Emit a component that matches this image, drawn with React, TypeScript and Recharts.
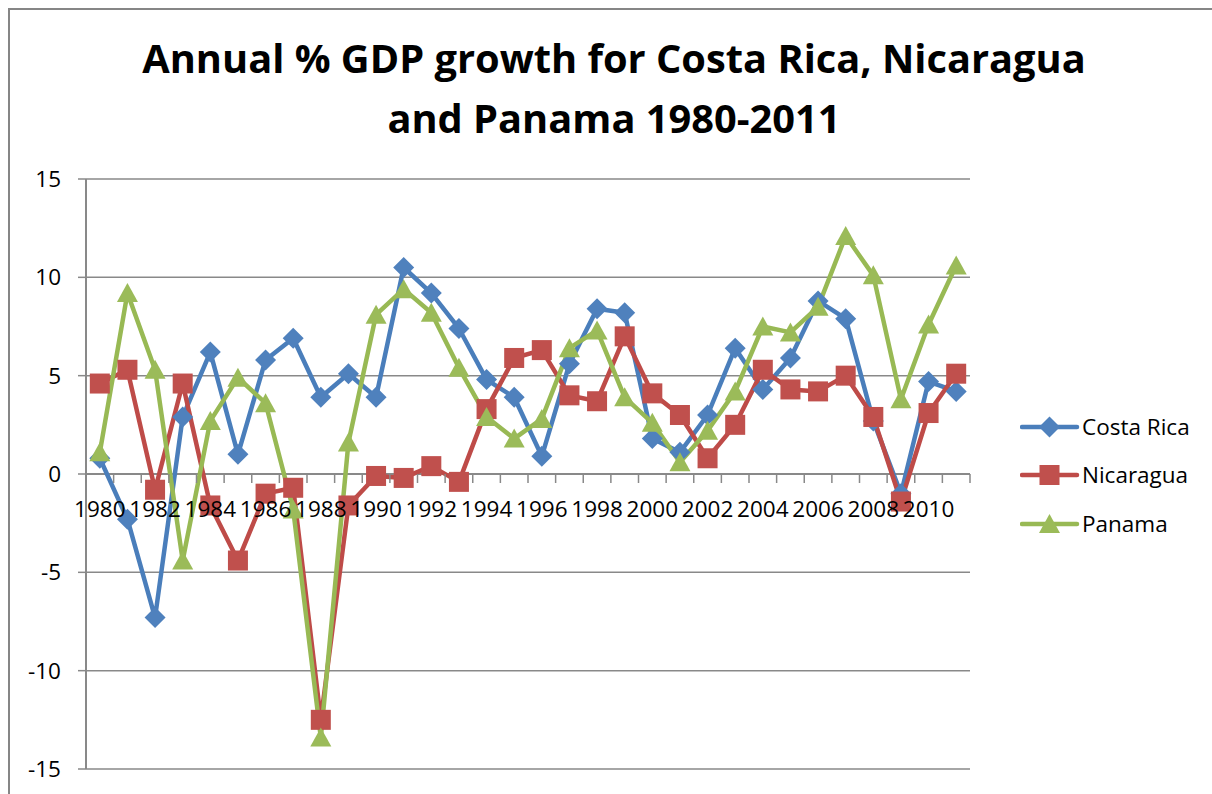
import React from 'react';
import { LineChart, Line, XAxis, YAxis, CartesianGrid, Legend, ReferenceLine } from 'recharts';

const years = [
  '1980', '1981', '1982', '1983', '1984', '1985', '1986', '1987', '1988', '1989',
  '1990', '1991', '1992', '1993', '1994', '1995', '1996', '1997', '1998', '1999',
  '2000', '2001', '2002', '2003', '2004', '2005', '2006', '2007', '2008', '2009',
  '2010', '2011',
];

const costaRica = [
  0.8, -2.3, -7.3, 2.9, 6.2, 1.0, 5.8, 6.9, 3.9, 5.1,
  3.9, 10.5, 9.2, 7.4, 4.8, 3.9, 0.9, 5.6, 8.4, 8.2,
  1.8, 1.1, 3.0, 6.4, 4.3, 5.9, 8.8, 7.9, 2.7, -1.0,
  4.7, 4.2,
];

const nicaragua = [
  4.6, 5.3, -0.8, 4.6, -1.6, -4.4, -1.0, -0.7, -12.5, -1.6,
  -0.1, -0.2, 0.4, -0.4, 3.3, 5.9, 6.3, 4.0, 3.7, 7.0,
  4.1, 3.0, 0.8, 2.5, 5.3, 4.3, 4.2, 5.0, 2.9, -1.4,
  3.1, 5.1,
];

const panama = [
  1.1, 9.2, 5.3, -4.4, 2.7, 4.9, 3.6, -1.8, -13.4, 1.6,
  8.1, 9.4, 8.2, 5.4, 2.9, 1.8, 2.8, 6.4, 7.3, 3.9,
  2.6, 0.6, 2.2, 4.2, 7.5, 7.2, 8.5, 12.1, 10.1, 3.8,
  7.6, 10.6,
];

const yTicks = [-15, -10, -5, 0, 5, 10, 15];

const data = years.map((y, i) => ({
  year: y,
  'Costa Rica': costaRica[i],
  Nicaragua: nicaragua[i],
  Panama: panama[i],
}));

const FONT = '"Open Sans", sans-serif';
const GRID = '#898989';

// layout of the plot area
const W = 1212;
const H = 794;
const M = { top: 179, right: 242, bottom: 20, left: 26 };
const Y_AXIS_W = 60;
const X_AXIS_H = 5;
const plotLeft = M.left + Y_AXIS_W;
const plotW = W - M.right - plotLeft;
const plotH = H - M.top - M.bottom - X_AXIS_H;
const zeroY = M.top + plotH * (15 / 30);
const band = plotW / years.length;

const COLORS: Record<string, { line: string; fill: string }> = {
  'Costa Rica': { line: '#4A7EBB', fill: '#4F81BD' },
  Nicaragua: { line: '#BE4B48', fill: '#C0504D' },
  Panama: { line: '#98B954', fill: '#9BBB59' },
};

const Marker = ({ name, cx, cy }: { name: string; cx: number; cy: number }) => {
  const c = COLORS[name].fill;
  if (name === 'Costa Rica') {
    return <polygon points={`${cx},${cy - 10.5} ${cx + 10.5},${cy} ${cx},${cy + 10.5} ${cx - 10.5},${cy}`} fill={c} />;
  }
  if (name === 'Nicaragua') {
    return <rect x={cx - 10} y={cy - 10} width={20} height={20} fill={c} />;
  }
  return <polygon points={`${cx},${cy - 10} ${cx + 10.5},${cy + 9} ${cx - 10.5},${cy + 9}`} fill={c} />;
};

const makeDot = (name: string) => (props: any) => {
  const { cx, cy, index } = props;
  return (
    <g key={`${name}-${index}`}>
      <Marker name={name} cx={cx} cy={cy} />
    </g>
  );
};

const YearTick = (props: any) => {
  const { x, index, payload } = props;
  return (
    <g>
      <line x1={x - band / 2} x2={x - band / 2} y1={zeroY} y2={zeroY + 9} stroke={GRID} strokeWidth={1.5} />
      {index === years.length - 1 && (
        <line x1={x + band / 2} x2={x + band / 2} y1={zeroY} y2={zeroY + 9} stroke={GRID} strokeWidth={1.5} />
      )}
      {index % 2 === 0 && (
        <text x={x} y={zeroY + 43} textAnchor="middle" fill="#000" fontSize={22.5} fontFamily={FONT}>
          {payload.value}
        </text>
      )}
    </g>
  );
};

const LegendBox = (props: any) => {
  const { payload } = props;
  return (
    <div>
      {(payload || []).map((p: any) => (
        <div key={p.value} style={{ height: 48.3, position: 'relative' }}>
          <svg width={60} height={48} style={{ position: 'absolute', left: 0, top: 0 }}>
            <line x1={2} x2={57} y1={24} y2={24} stroke={COLORS[p.value].line} strokeWidth={4.5} strokeLinecap="round" />
            <Marker name={p.value} cx={29.5} cy={24} />
          </svg>
          <span
            style={{
              position: 'absolute',
              left: 62,
              top: 24,
              transform: 'translateY(-50%)',
              fontFamily: FONT,
              fontSize: 22.5,
              color: '#000',
              whiteSpace: 'nowrap',
              lineHeight: 1,
            }}
          >
            {p.value}
          </span>
        </div>
      ))}
    </div>
  );
};

const series = ['Costa Rica', 'Nicaragua', 'Panama'];

export default function App() {
  return (
    <div style={{ position: 'absolute', left: 0, top: 0, width: W, height: H, background: '#fff', overflow: 'hidden' }}>
      <div
        style={{
          position: 'absolute',
          left: 8,
          top: 8,
          width: W - 8,
          height: H - 8,
          borderTop: '2px solid #868686',
          borderLeft: '2px solid #868686',
          boxSizing: 'border-box',
        }}
      />
      <div
        style={{
          position: 'absolute',
          left: 14,
          top: 28,
          width: 1200,
          textAlign: 'center',
          fontFamily: FONT,
          fontWeight: 700,
          fontSize: 39.8,
          lineHeight: '60px',
          color: '#000',
          whiteSpace: 'nowrap',
        }}
      >
        <div>Annual % GDP growth for Costa Rica, Nicaragua</div>
        <div>and Panama 1980-2011</div>
      </div>
      <div style={{ position: 'absolute', left: 0, top: 0 }}>
        <LineChart width={W} height={H} data={data} margin={M}>
          <CartesianGrid vertical={false} stroke={GRID} strokeWidth={1.5} />
          <XAxis
            dataKey="year"
            height={X_AXIS_H}
            interval={0}
            padding={{ left: band / 2, right: band / 2 }}
            axisLine={false}
            tickLine={false}
            tick={<YearTick />}
          />
          <YAxis
            width={Y_AXIS_W}
            domain={[-15, 15]}
            ticks={yTicks}
            interval={0}
            axisLine={{ stroke: GRID, strokeWidth: 2 }}
            tickLine={{ stroke: GRID, strokeWidth: 1.5 }}
            tickSize={8}
            tickMargin={17}
            tick={{ fill: '#000', fontSize: 22.5, fontFamily: FONT }}
          />
          <ReferenceLine y={0} stroke={GRID} strokeWidth={2} />
          <Legend
            layout="horizontal"
            align="center"
            verticalAlign="middle"
            content={<LegendBox />}
            wrapperStyle={{ position: 'absolute', left: 1020, top: 403, width: 190 }}
          />
          {series.map((s) => (
            <Line
              key={s}
              type="linear"
              dataKey={s}
              name={s}
              stroke={COLORS[s].line}
              strokeWidth={4.5}
              strokeLinejoin="round"
              dot={makeDot(s)}
              activeDot={false}
              isAnimationActive={false}
            />
          ))}
        </LineChart>
      </div>
    </div>
  );
}
